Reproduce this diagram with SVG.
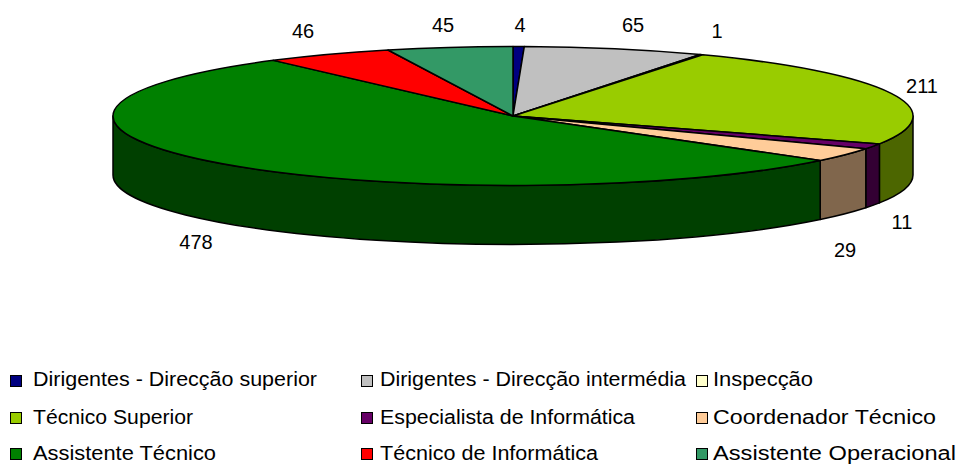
<svg xmlns="http://www.w3.org/2000/svg" width="959" height="464" viewBox="0 0 959 464">
<style>
.s{stroke:#000;stroke-width:1.5;stroke-linejoin:round}
.t{font-family:"Liberation Sans",Arial,sans-serif;font-size:20px;fill:#000}
.n{text-anchor:middle}
.k{stroke:#000;stroke-width:1}
</style>
<rect width="959" height="464" fill="#fff"/>
<g id="pie">
<g id="sides">
<path class="s" fill="#4C6600" d="M913 116 A400 69.5 0 0 1 879.4 143.89 L879.4 202.89 A400 69.5 0 0 0 913 175 Z"/>
<path class="s" fill="#330033" d="M879.4 143.89 A400 69.5 0 0 1 865.8 148.75 L865.8 207.75 A400 69.5 0 0 0 879.4 202.89 Z"/>
<path class="s" fill="#80664C" d="M865.8 148.75 A400 69.5 0 0 1 820.2 160.51 L820.2 219.51 A400 69.5 0 0 0 865.8 207.75 Z"/>
<path class="s" fill="#004000" d="M820.2 160.51 A400 69.5 0 0 1 113 116 L113 175 A400 69.5 0 0 0 820.2 219.51 Z"/>
</g>
<g id="slice-dirigentes-superior"><path class="s" fill="#000080" d="M513 116 L513 46.5 A400 69.5 0 0 1 524.3 46.53 Z"/></g>
<g id="slice-dirigentes-intermedia"><path class="s" fill="#C0C0C0" d="M513 116 L524.3 46.53 A400 69.5 0 0 1 700.2 54.58 Z"/></g>
<g id="slice-inspeccao"><path class="s" fill="#FFFFCC" d="M513 116 L700.2 54.58 A400 69.5 0 0 1 702.7 54.81 Z"/></g>
<g id="slice-tecnico-superior"><path class="s" fill="#99CC00" d="M513 116 L702.7 54.81 A400 69.5 0 0 1 879.4 143.89 Z"/></g>
<g id="slice-especialista"><path class="s" fill="#660066" d="M513 116 L879.4 143.89 A400 69.5 0 0 1 865.8 148.75 Z"/></g>
<g id="slice-coordenador"><path class="s" fill="#FFCC99" d="M513 116 L865.8 148.75 A400 69.5 0 0 1 820.2 160.51 Z"/></g>
<g id="slice-assistente-tecnico"><path class="s" fill="#008000" d="M513 116 L820.2 160.51 A400 69.5 0 1 1 273.3 60.36 Z"/></g>
<g id="slice-tecnico-informatica"><path class="s" fill="#FF0000" d="M513 116 L273.3 60.36 A400 69.5 0 0 1 388 49.98 Z"/></g>
<g id="slice-assistente-operacional"><path class="s" fill="#339966" d="M513 116 L388 49.98 A400 69.5 0 0 1 513 46.5 Z"/></g>
</g>
<g id="labels">
<text class="t n" x="520" y="32">4</text>
<text class="t n" x="633" y="32">65</text>
<text class="t n" x="717" y="38">1</text>
<text class="t n" x="922" y="93">211</text>
<text class="t n" x="902" y="229">11</text>
<text class="t n" x="845" y="257">29</text>
<text class="t n" x="196" y="249">478</text>
<text class="t n" x="303" y="38">46</text>
<text class="t n" x="443" y="32">45</text>
</g>
<g id="legend">
<rect class="k" x="10.5" y="375.5" width="11" height="11" fill="#000080"/>
<text class="t" x="33" y="386" textLength="284" lengthAdjust="spacingAndGlyphs">Dirigentes - Direcção superior</text>
<rect class="k" x="361.5" y="375.5" width="11" height="11" fill="#C0C0C0"/>
<text class="t" x="380" y="386" textLength="306" lengthAdjust="spacingAndGlyphs">Dirigentes - Direcção intermédia</text>
<rect class="k" x="696.5" y="375.5" width="11" height="11" fill="#FFFFCC"/>
<text class="t" x="713" y="386" textLength="100" lengthAdjust="spacingAndGlyphs">Inspecção</text>
<rect class="k" x="10.5" y="412.5" width="11" height="11" fill="#99CC00"/>
<text class="t" x="33" y="424" textLength="160" lengthAdjust="spacingAndGlyphs">Técnico Superior</text>
<rect class="k" x="361.5" y="412.5" width="11" height="11" fill="#660066"/>
<text class="t" x="380" y="424" textLength="255" lengthAdjust="spacingAndGlyphs">Especialista de Informática</text>
<rect class="k" x="696.5" y="412.5" width="11" height="11" fill="#FFCC99"/>
<text class="t" x="713" y="424" textLength="223" lengthAdjust="spacingAndGlyphs">Coordenador Técnico</text>
<rect class="k" x="10.5" y="448.5" width="11" height="11" fill="#008000"/>
<text class="t" x="33" y="460" textLength="183" lengthAdjust="spacingAndGlyphs">Assistente Técnico</text>
<rect class="k" x="361.5" y="448.5" width="11" height="11" fill="#FF0000"/>
<text class="t" x="380" y="460" textLength="218" lengthAdjust="spacingAndGlyphs">Técnico de Informática</text>
<rect class="k" x="696.5" y="448.5" width="11" height="11" fill="#339966"/>
<text class="t" x="713" y="460" textLength="243" lengthAdjust="spacingAndGlyphs">Assistente Operacional</text>
</g>
</svg>
